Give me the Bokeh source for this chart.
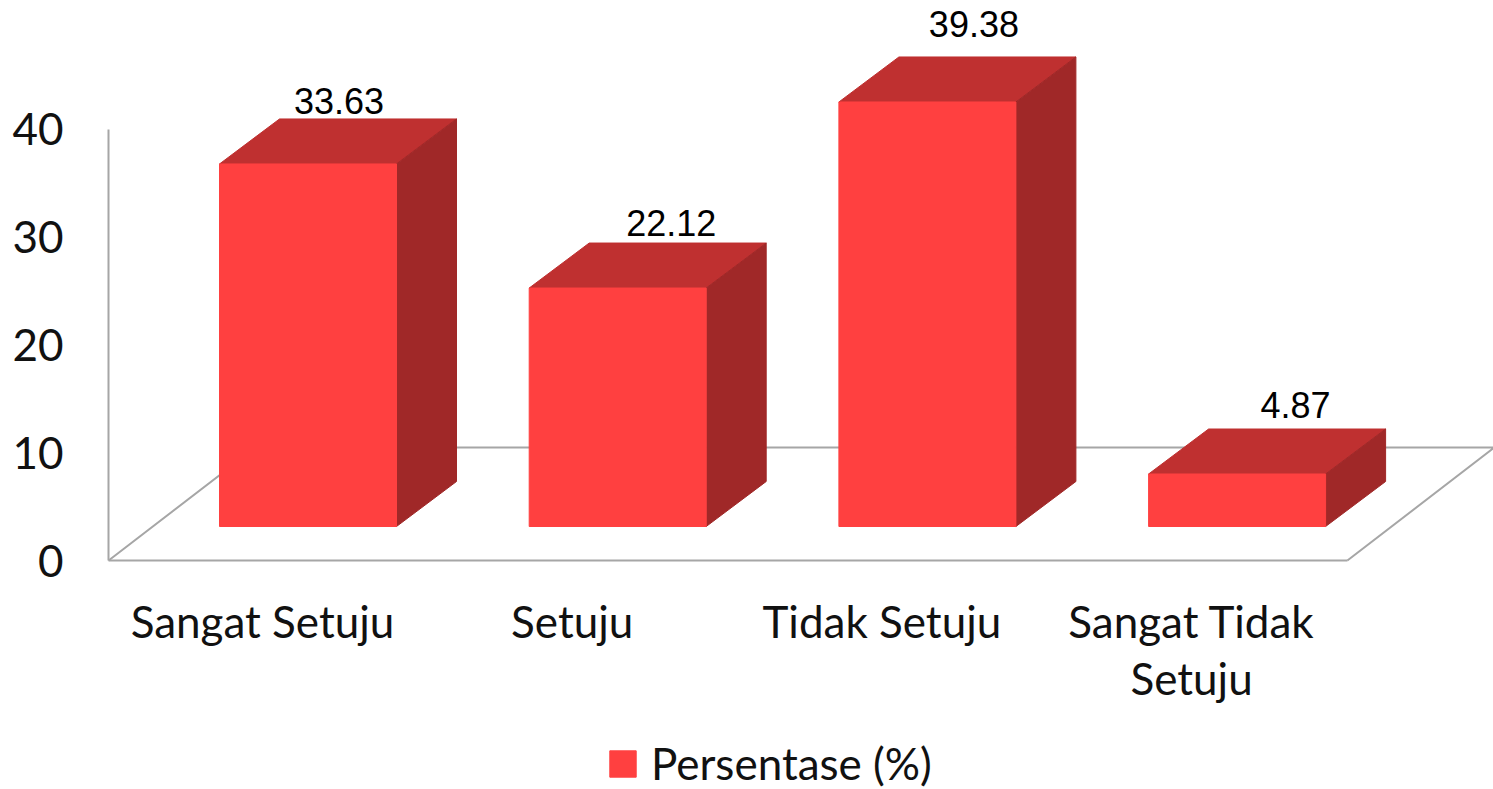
from bokeh.plotting import figure
from bokeh.embed import file_html
from bokeh.resources import INLINE
from bokeh.core.properties import value
from bokeh.models import FixedTicker, Legend, LegendItem, Range1d

categories = ["Sangat Setuju", "Setuju", "Tidak Setuju", "Sangat Tidak\nSetuju"]
percentages = [33.63, 22.12, 39.38, 4.87]
y_ticks = [0, 10, 20, 30, 40]
series_name = "Persentase (%)"

# scale helpers (screen pixels per data unit)
PX_X = 309.7
PX_Y = 10.78
bar_shift = 45.5 / PX_X
half_w = 88.5 / PX_X
base = 34 / PX_Y
depth_x = 60 / PX_X
depth_y = 45 / PX_Y
floor_lo, floor_hi = -0.497, 3.503
floor_dx = 147 / PX_X
floor_dy = 113 / PX_Y
label_off_x = [31, 53.5, 46.5, 58.5]
label_off_y = [18, 20, 33, 24]

GREY = "#A6A6A6"
FRONT = "#FF4040"
TOP = "#BF3030"
SIDE = "#A02828"
CAL = "Lato"

# The frame spans the whole page so the legend (below the axis labels) stays inside it;
# the zero line sits 229 px above the frame bottom, the value axis at the frame's 108 px mark.
p = figure(frame_width=1493, frame_height=789, output_backend="svg", toolbar_location=None,
           x_range=Range1d(-262 / PX_X, -262 / PX_X + 1493 / PX_X),
           y_range=Range1d(-229 / PX_Y, 560 / PX_Y),
           x_axis_location="below", y_axis_location="left",
           min_border_left=0, min_border_right=0, min_border_top=0, min_border_bottom=0)
p.outline_line_color = None
p.background_fill_color = "white"
p.grid.visible = False

# floor, behind the bars
p.line([floor_lo, floor_lo + floor_dx, floor_hi + floor_dx, floor_hi],
       [0, floor_dy, floor_dy, 0], line_color=GREY, line_width=2)

lefts = [i + bar_shift - half_w for i in range(len(percentages))]
rights = [i + bar_shift + half_w for i in range(len(percentages))]
tops = [base + v for v in percentages]

p.patches([[l, l + depth_x, r + depth_x, r] for l, r in zip(lefts, rights)],
          [[t, t + depth_y, t + depth_y, t] for t in tops],
          fill_color=TOP, line_color=TOP)
p.patches([[r, r + depth_x, r + depth_x, r] for r in rights],
          [[base, base + depth_y, t + depth_y, t] for t in tops],
          fill_color=SIDE, line_color=SIDE)
front = p.quad(left=lefts, right=rights, bottom=[base] * len(tops), top=tops,
               fill_color=FRONT, line_color=FRONT)

p.text(x=[i + bar_shift for i in range(len(percentages))],
       y=[t + depth_y for t in tops],
       x_offset=label_off_x, y_offset=[-v for v in label_off_y],
       text=[f"{v:.2f}" for v in percentages],
       text_font=value("Liberation Sans"), text_font_size="36px",
       text_color="black", text_align="center", text_baseline="alphabetic")

xa = p.xaxis[0]
xa.ticker = FixedTicker(ticks=list(range(len(categories))))
xa.major_label_overrides = {i: c for i, c in enumerate(categories)}
xa.bounds = (floor_lo, floor_hi)
xa.fixed_location = 0
ya = p.yaxis[0]
ya.ticker = FixedTicker(ticks=y_ticks)
ya.bounds = (0, 40)
ya.fixed_location = floor_lo
for ax in (xa, ya):
    ax.axis_line_color = GREY
    ax.axis_line_width = 2
    ax.major_tick_line_color = None
    ax.minor_tick_line_color = None
    ax.major_label_text_font = CAL
    ax.major_label_text_font_size = "44px"
    ax.major_label_text_color = "#111111"
    ax.major_label_text_font_style = "normal"
    ax.major_label_text_line_height = 1.1
xa.major_label_standoff = 28
ya.major_label_standoff = 39

legend = Legend(items=[LegendItem(label=series_name, renderers=[front])],
                location=(606, 0), orientation="horizontal",
                background_fill_alpha=0, border_line_color=None,
                glyph_width=33, glyph_height=33, padding=0, margin=0,
                label_standoff=12, label_text_font=CAL, label_text_font_size="44px",
                label_text_color="#111111")
p.add_layout(legend, "center")

open("out.html", "w").write(file_html(p, INLINE))
